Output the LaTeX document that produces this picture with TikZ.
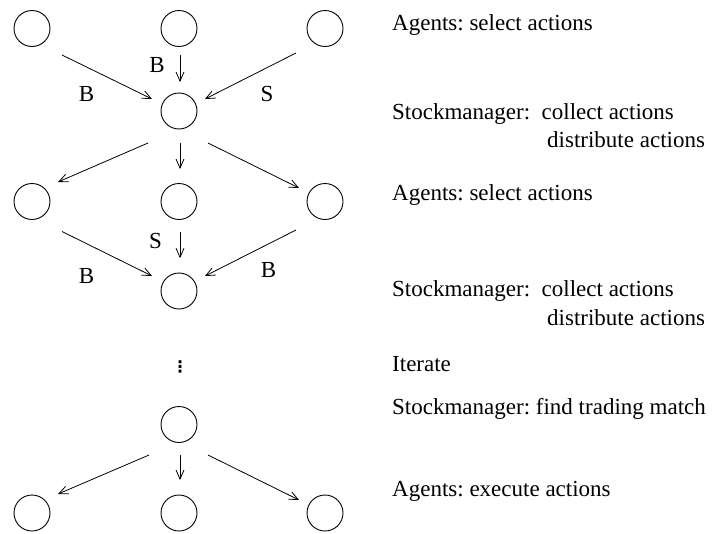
\documentclass[tikz,border=0pt]{standalone}
\usepackage{fontspec}
\setmainfont{Liberation Serif}
\newfontfamily\symfont{DejaVu Sans}
\usetikzlibrary{arrows.meta,calc}
\begin{document}
\frenchspacing
\begin{tikzpicture}[x=1pt,y=-1pt,
  agent/.style={circle,draw,minimum size=36pt,inner sep=0pt,line width=0.9pt},
  conn/.style={line width=0.8pt,-{Straight Barb[length=9pt,width=8pt,line width=0.8pt]}},
  lbl/.style={anchor=base,inner sep=0pt,font=\fontsize{23}{27}\selectfont},
  desc/.style={anchor=base west,inner sep=0pt,font=\fontsize{23}{27}\selectfont}]
\useasboundingbox (0,0) rectangle (712,533);

% circles
\node[agent] (a1) at (32,28.5) {};
\node[agent] (a2) at (179,28.5) {};
\node[agent] (a3) at (325,28.5) {};
\node[agent] (m1) at (179,111) {};
\node[agent] (b1) at (32,201.5) {};
\node[agent] (b2) at (179,201.5) {};
\node[agent] (b3) at (325,201.5) {};
\node[agent] (m2) at (179,291) {};
\node[agent] (m3) at (179,424.5) {};
\node[agent] (c1) at (32,513) {};
\node[agent] (c2) at (179,513) {};
\node[agent] (c3) at (325,513) {};

\node[inner sep=0pt] (dots) at (180,367) {\symfont\fontsize{16}{16}\selectfont\bfseries ⋮};

% group 1
\draw[conn] ($(a1)+(30,26.5)$) -- ($(m1)+(-27,-12)$);
\draw[conn] ($(a2)+(1,26.5)$) -- ($(m1)+(1,-29)$);
\draw[conn] ($(a3)+(-29,24.5)$) -- ($(m1)+(26,-12)$);
% group 2
\draw[conn] ($(m1)+(-31,32)$) -- ($(b1)+(26,-19.5)$);
\draw[conn] ($(m1)+(1,32)$) -- ($(b2)+(1,-32.5)$);
\draw[conn] ($(m1)+(29,32)$) -- ($(b3)+(-26,-13.5)$);
% group 3
\draw[conn] ($(b1)+(30,30)$) -- ($(m2)+(-27,-15)$);
\draw[conn] ($(b2)+(1,30)$) -- ($(m2)+(1,-32.7)$);
\draw[conn] ($(b3)+(-29,28.5)$) -- ($(m2)+(26,-15)$);
% group 4
\draw[conn] ($(m3)+(-30,30.5)$) -- ($(c1)+(26,-19)$);
\draw[conn] ($(m3)+(1,30.5)$) -- ($(c2)+(1,-33)$);
\draw[conn] ($(m3)+(29,30.5)$) -- ($(c3)+(-26,-13)$);

% edge labels
\node[lbl] (l1) at (157,72) {B};
\node[lbl] (l2) at (86.5,101) {B};
\node[lbl] (l3) at (267,101) {S};
\node[lbl] (l4) at (155.5,248) {S};
\node[lbl] (l5) at (86.5,283) {B};
\node[lbl] (l6) at (268.5,277) {B};

% descriptions
\node[desc] (t1) at (392,30.7) {Agents: select actions};
\node[desc] (t2) at (392,119) {Stockmanager:\ \ collect actions};
\node[desc] (t3) at (547,147.7) {distribute actions};
\node[desc] (t4) at (392,200) {Agents: select actions};
\node[desc] (t5) at (392,296) {Stockmanager:\ \ collect actions};
\node[desc] (t6) at (547,325) {distribute actions};
\node[desc] (t7) at (392,371.7) {Iterate};
\node[desc] (t8) at (392,414) {Stockmanager: find trading match};
\node[desc] (t9) at (392,496.7) {Agents: execute actions};
\end{tikzpicture}
\end{document}
